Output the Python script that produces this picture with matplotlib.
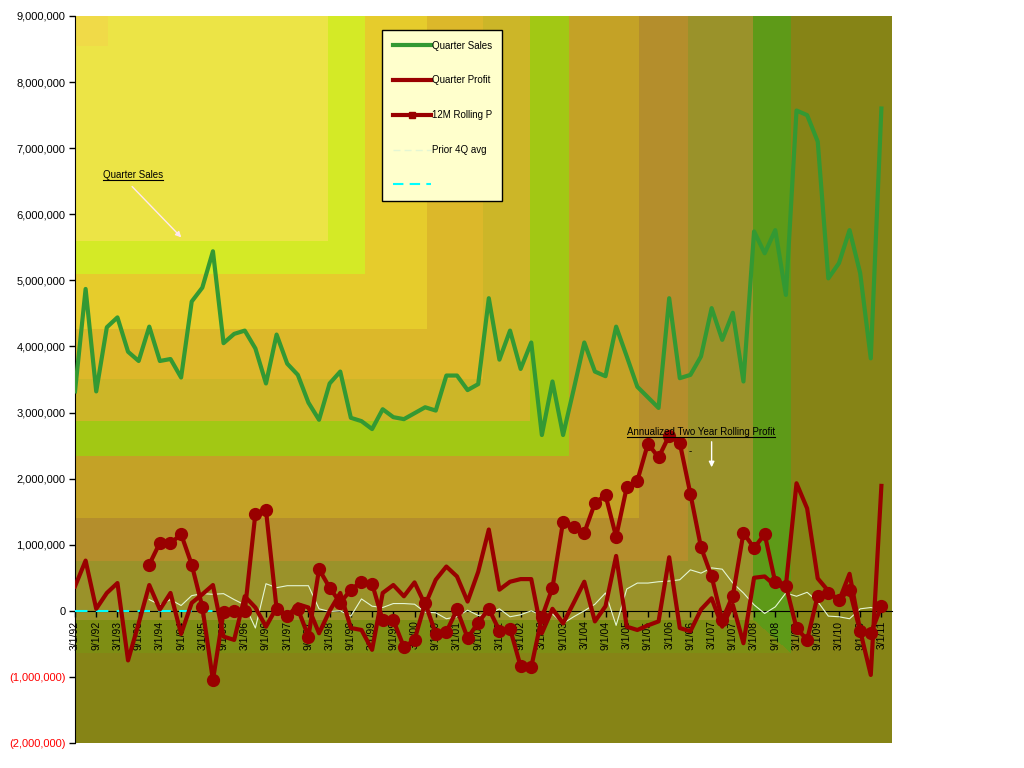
import numpy as np
import matplotlib
matplotlib.use("Agg")
import matplotlib.pyplot as plt
from matplotlib.lines import Line2D
from matplotlib.colors import to_rgb
from matplotlib.ticker import FuncFormatter
from matplotlib.transforms import IdentityTransform

plt.rcParams['font.family'] = ['Liberation Sans', 'DejaVu Sans']

# quarterly values in millions, 3/1/92 .. 3/1/11
quarter_sales = [3.32, 4.87, 3.32, 4.29, 4.44, 3.92, 3.78, 4.30, 3.78, 3.81,
                 3.53, 4.68, 4.89, 5.44, 4.05, 4.19, 4.24, 3.97, 3.44, 4.18,
                 3.74, 3.57, 3.15, 2.89, 3.44, 3.62, 2.92, 2.87, 2.75, 3.05,
                 2.93, 2.90, 2.99, 3.08, 3.03, 3.56, 3.56, 3.34, 3.43, 4.73,
                 3.80, 4.24, 3.66, 4.06, 2.66, 3.47, 2.66, 3.35, 4.06, 3.62,
                 3.55, 4.30, 3.85, 3.39, 3.23, 3.07, 4.73, 3.52, 3.57, 3.85,
                 4.58, 4.10, 4.51, 3.47, 5.74, 5.41, 5.76, 4.78, 7.57, 7.50,
                 7.10, 5.03, 5.26, 5.76, 5.11, 3.82, 7.60]

quarter_profit = [0.37, 0.76, 0.03, 0.27, 0.42, -0.75, -0.19, 0.39, 0.02, 0.27,
                  -0.35, 0.12, 0.25, 0.39, -0.39, -0.44, 0.22, 0.05, -0.24, 0.05,
                  -0.10, 0.10, 0.05, -0.34, 0.00, 0.27, -0.26, -0.29, -0.59, 0.27,
                  0.39, 0.22, 0.43, 0.09, 0.47, 0.67, 0.52, 0.14, 0.59, 1.23,
                  0.32, 0.44, 0.48, 0.48, -0.34, 0.03, -0.19, 0.12, 0.44, -0.16,
                  0.07, 0.83, -0.24, -0.29, -0.22, -0.16, 0.81, -0.26, -0.31, 0.02,
                  0.19, -0.24, 0.09, -0.49, 0.50, 0.52, 0.38, 0.38, 1.93, 1.55,
                  0.49, 0.30, 0.15, 0.56, -0.30, -0.97, 1.89]

# 12M rolling profit starts at the 8th quarter
rolling_start = 7
rolling_profit = [0.70, 1.03, 1.02, 1.16, 0.70, 0.06, -1.05, -0.02, -0.01, -0.01,
                  1.47, 1.52, 0.03, -0.08, 0.03, -0.39, 0.63, 0.35, 0.12, 0.32,
                  0.44, 0.41, -0.14, -0.14, -0.55, -0.44, 0.12, -0.35, -0.32, 0.02,
                  -0.41, -0.18, 0.03, -0.30, -0.27, -0.84, -0.85, -0.10, 0.35, 1.35,
                  1.27, 1.18, 1.63, 1.75, 1.12, 1.87, 1.97, 2.53, 2.32, 2.65,
                  2.54, 1.77, 0.96, 0.52, -0.14, 0.23, 1.18, 0.95, 1.16, 0.43,
                  0.38, -0.26, -0.44, 0.23, 0.27, 0.17, 0.31, -0.31, -0.34, 0.07]

prior_start = 7
prior_4q_avg = [0.17, 0.09, 0.17, 0.08, 0.23, 0.26, 0.25, 0.26, 0.17, 0.09,
                -0.26, 0.41, 0.35, 0.38, 0.38, 0.38, 0.03, -0.01, 0.00, -0.08,
                0.18, 0.07, 0.05, 0.11, 0.11, 0.10, -0.02, -0.03, -0.12, -0.09,
                0.01, -0.07, -0.05, 0.03, -0.09, -0.06, 0.00, -0.07, -0.05, -0.19,
                -0.09, 0.00, 0.10, 0.27, -0.22, 0.33, 0.42, 0.42, 0.44, 0.45,
                0.47, 0.62, 0.57, 0.65, 0.63, 0.42, 0.27, 0.09, -0.04, 0.06,
                0.27, 0.22, 0.28, 0.14, -0.08, -0.09, -0.12, 0.03, 0.05, 0.02]

baseline = [0.0] * 15

tick_labels = []
for yr in range(1992, 2012):
    tick_labels.append("3/1/%02d" % (yr % 100))
    if yr < 2011:
        tick_labels.append("9/1/%02d" % (yr % 100))

green = '#339933'
red = '#990000'
pale = '#E4F6D4'
cyan = '#00FFFF'

fig = plt.figure(figsize=(10.24, 7.68), dpi=100)
ax = fig.add_axes([75 / 1024, 1 - 743 / 768, 817 / 1024, 727 / 768])

# rectangular corner gradient background (bands)
band_edges = [0.04, 0.31, 0.355, 0.43, 0.50, 0.557, 0.605, 0.69, 0.75, 0.83, 0.877]
band_colors = ['#F0DA48', '#ECE446', '#D4EA26', '#E6CC2C', '#DCB82A', '#CCB628',
               '#A2C814', '#C4A226', '#B48E2C', '#9A922A', '#5E9A18', '#868416']
# the green band is only strong in its vertical arm
green_band_low = '#7E8E14'
uu, vv = np.meshgrid(np.linspace(0, 1, 820), np.linspace(0, 1, 730))
tt = np.maximum(uu, vv)
idx = np.digitize(tt, band_edges)
rgb = np.array([to_rgb(c) for c in band_colors])[idx]
low_arm = (idx == 10) & (vv > uu)
rgb[low_arm] = to_rgb(green_band_low)
ax.imshow(rgb, extent=[0, 1, 0, 1], transform=ax.transAxes, aspect='auto',
          zorder=0, interpolation='nearest')

x = np.arange(len(quarter_sales))
xr = np.arange(rolling_start, rolling_start + len(rolling_profit))
xp = np.arange(prior_start, prior_start + len(prior_4q_avg))
xb = np.arange(len(baseline))

ax.plot(xb, np.array(baseline) * 1e6, color=cyan, lw=1.5, dashes=(6, 4), zorder=3)
ax.plot(xp, np.array(prior_4q_avg) * 1e6, color=pale, lw=0.8, zorder=3)
ax.plot(x, np.array(quarter_profit) * 1e6, color=red, lw=3, zorder=4)
ax.plot(xr, np.array(rolling_profit) * 1e6, color=red, lw=3, marker='o', ms=8.5,
        zorder=5)
ax.plot(x, np.array(quarter_sales) * 1e6, color=green, lw=3, zorder=6)

ax.set_xlim(0, 77)
ax.set_ylim(-2e6, 9e6)
ax.set_yticks(np.arange(-2e6, 9.5e6, 1e6))


def fmt(v, pos):
    if v < 0:
        return "({:,.0f})".format(-v)
    return "{:,.0f}".format(v)


ax.yaxis.set_major_formatter(FuncFormatter(fmt))
for lab, val in zip(ax.get_yticklabels(), ax.get_yticks()):
    if val < 0:
        lab.set_color('red')
ax.tick_params(axis='y', labelsize=8, length=4, width=1, direction='out', pad=3)

ax.spines['bottom'].set_position(('data', 0))
ax.spines['top'].set_visible(False)
ax.spines['right'].set_visible(False)
ax.set_xticks(np.arange(0, 77, 2))
ax.set_xticklabels(tick_labels, rotation=90, fontsize=7.5)
ax.tick_params(axis='x', length=4, width=1, direction='out', pad=3)

# annotations
t1 = ax.text(5.5, 6.6e6, 'Quarter Sales', fontsize=7, ha='center', va='center',
             zorder=7)
ax.annotate('', xy=(10.2, 5.62e6), xytext=(5.2, 6.45e6),
            arrowprops=dict(arrowstyle='-|>', color='#FFE8F0', lw=1,
                            mutation_scale=8), zorder=7)
t2 = ax.text(59.0, 2.71e6, 'Annualized Two Year Rolling Profit', fontsize=7,
             ha='center', va='center', zorder=7)
ax.text(58.0, 2.42e6, '-', fontsize=7, ha='center', va='center', zorder=7)
ax.annotate('', xy=(60.0, 2.13e6), xytext=(60.0, 2.6e6),
            arrowprops=dict(arrowstyle='-|>', color='white', lw=1,
                            mutation_scale=8), zorder=7)

handles = [
    Line2D([], [], color=green, lw=3),
    Line2D([], [], color=red, lw=3),
    Line2D([], [], color=red, lw=3, marker='s', ms=4),
    Line2D([], [], color=pale, lw=1, dashes=(5, 3)),
    Line2D([], [], color=cyan, lw=1.5, dashes=(5, 3)),
]
labels = ['Quarter Sales', 'Quarter Profit', '12M Rolling P', 'Prior 4Q avg', ' ']
leg = ax.legend(handles, labels, loc='upper left',
                bbox_to_anchor=(382 / 1024, 1 - 30 / 768),
                bbox_transform=fig.transFigure, fontsize=7, labelspacing=2.55,
                handlelength=3.9, handletextpad=0.1, borderpad=1.1,
                borderaxespad=0, fancybox=False, framealpha=1,
                facecolor='#FFFFCC', edgecolor='black')
leg.get_frame().set_linewidth(1)
leg.set_zorder(10)

# underline the annotation texts
fig.canvas.draw()
r = fig.canvas.get_renderer()
for t in (t1, t2):
    bb = t.get_window_extent(r)
    fig.add_artist(Line2D([bb.x0, bb.x1], [bb.y0, bb.y0], color='black', lw=0.8,
                          transform=IdentityTransform()))

fig.savefig('out.png', dpi=100)
